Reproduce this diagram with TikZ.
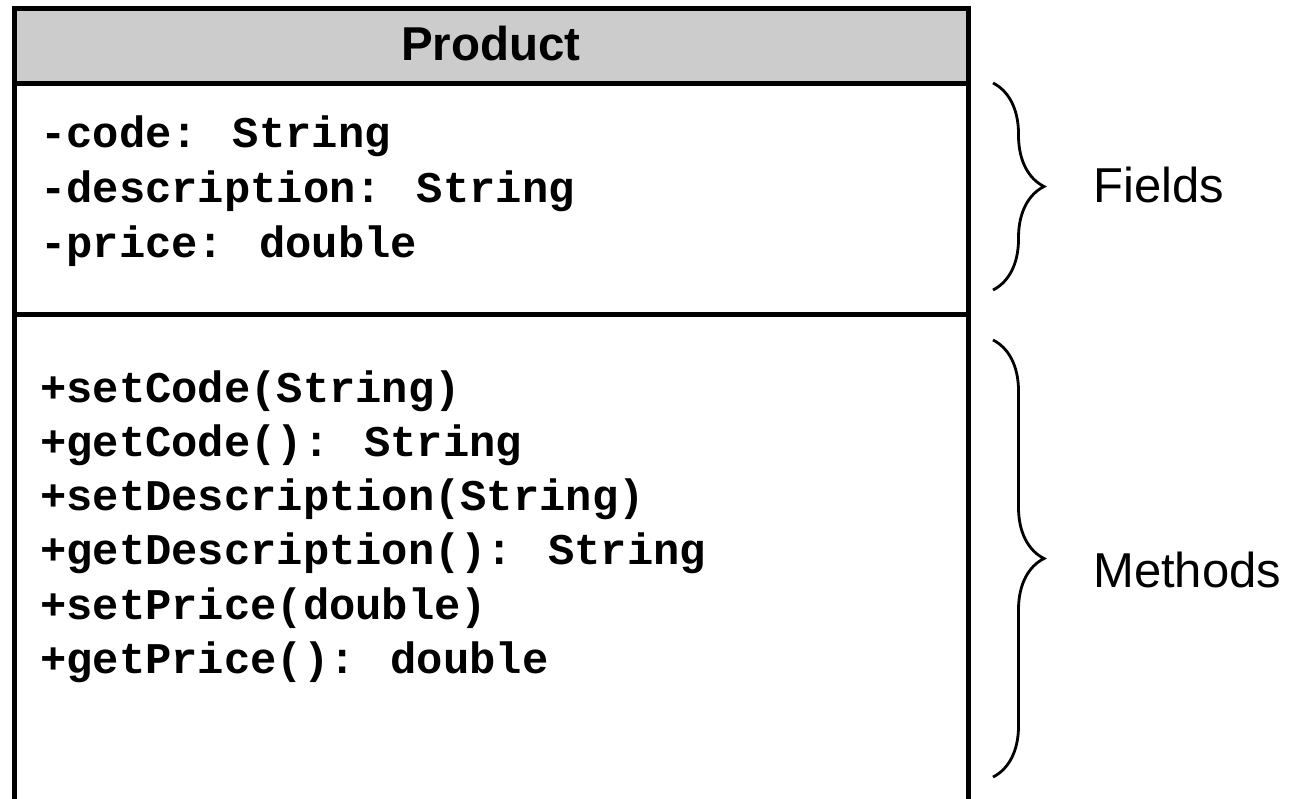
\documentclass[tikz,border=0pt]{standalone}
\usepackage{fontspec}
\setmainfont{Liberation Sans}
\newfontfamily\codefont{Liberation Mono}
\usetikzlibrary{decorations.pathreplacing}
\definecolor{headgrey}{HTML}{CCCCCC}
\tikzset{
  classline/.style={line width=5pt, line join=miter},
  member/.style={anchor=base west, inner sep=0pt, font=\codefont\bfseries\fontsize{43.8}{50}\selectfont},
  title/.style={anchor=base, inner sep=0pt, font=\bfseries\fontsize{47.5}{52}\selectfont},
  grouplabel/.style={anchor=base west, inner sep=0pt, font=\fontsize{49}{54}\selectfont},
  groupbrace/.style={line width=2.8pt, decorate, decoration={brace, amplitude=51pt, aspect=0.5}}
}
\begin{document}
\begin{tikzpicture}[x=1pt, y=-1pt]
  \useasboundingbox (0,0) rectangle (1289,798);
  \clip (0,0) rectangle (1289,798);
  \fill[white] (0,0) rectangle (1289,798);

  % class box: header, fields and methods compartments
  \fill[headgrey] (14,8) rectangle (968,83);
  \draw[classline] (14,820) -- (14,8) -- (968,8) -- (968,820);
  \draw[classline] (14,83) -- (968,83);
  \draw[classline] (14,314) -- (968,314);

  \node[title] (name) at (491,60) {Product};

  % attributes
  \node[member] (f1) at (40,147) {-code: String};
  \node[member] (f2) at (40,202) {-description: String};
  \node[member] (f3) at (40,257) {-price: double};

  % operations
  \node[member] (m1) at (40,402) {+setCode(String)};
  \node[member] (m2) at (40,456) {+getCode(): String};
  \node[member] (m3) at (40,510) {+setDescription(String)};
  \node[member] (m4) at (40,564) {+getDescription(): String};
  \node[member] (m5) at (40,619) {+setPrice(double)};
  \node[member] (m6) at (40,673) {+getPrice(): double};

  % braces grouping the compartments
  \coordinate (fTop) at (993,83);
  \coordinate (fBot) at (993,290);
  \coordinate (mTop) at (993,340);
  \coordinate (mBot) at (993,777);
  \draw[groupbrace] (fTop) -- (fBot);
  \draw[groupbrace] (mTop) -- (mBot);

  \node[grouplabel] (fields) at (1093,202) {Fields};
  \node[grouplabel] (methods) at (1093,587) {Methods};
\end{tikzpicture}
\end{document}
